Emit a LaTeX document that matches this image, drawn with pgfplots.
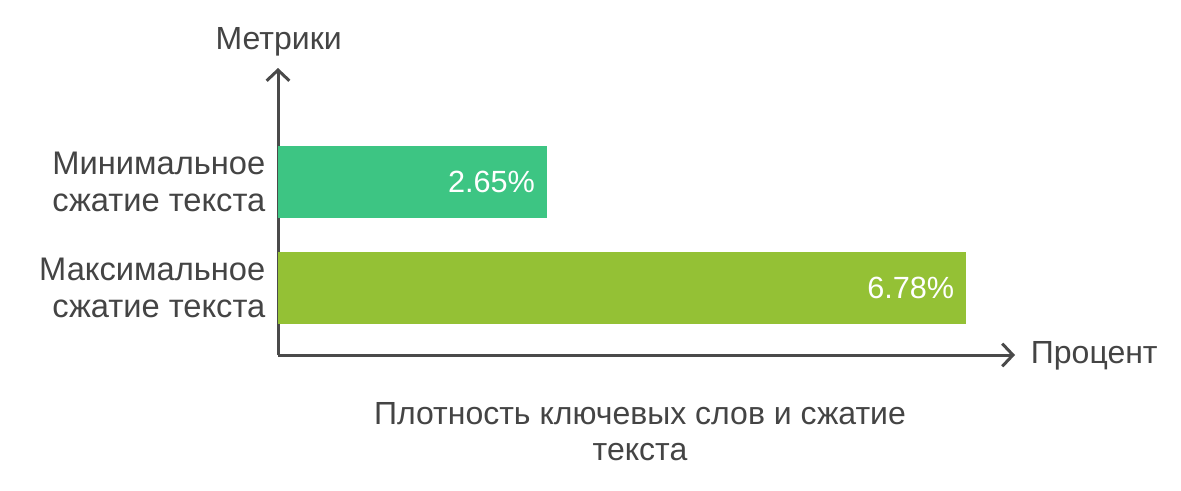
\documentclass[border=0pt]{standalone}
\usepackage{fontspec}
\setmainfont{Liberation Sans}
\usepackage{pgfplots}
\pgfplotsset{compat=1.18}
\usetikzlibrary{arrows.meta}
\definecolor{barA}{HTML}{3DC583}
\definecolor{barB}{HTML}{94C135}
\definecolor{axisgray}{HTML}{4A4A4A}
\definecolor{txt}{HTML}{444444}
\begin{document}
\begin{tikzpicture}
\useasboundingbox (0,0) rectangle (885.75pt,367.5pt);
\coordinate (O) at (208.5pt,101.25pt);
\begin{axis}[
  at={(O)}, anchor=south west,
  scale only axis,
  width=552.75pt, height=215.25pt,
  xmin=0, xmax=7.26,
  ymin=-0.632, ymax=2.075,
  axis lines=left,
  axis line style={draw=axisgray, line width=2.25pt},
  x axis line style={-{Straight Barb[length=8pt,width=17pt,line width=2.25pt]}},
  y axis line style={-{Straight Barb[length=8pt,width=17pt,line width=2.25pt]}},
  xtick=\empty,
  ytick={0,1},
  yticklabels={Максимальное\\сжатие текста, Минимальное\\сжатие текста},
  major tick length=0pt,
  yticklabel style={align=right, text=txt, font=\fontsize{24.5}{27.75}\selectfont, xshift=-6pt},
  xbar, bar width=54pt,
  point meta=x,
  nodes near coords={\pgfmathprintnumber[fixed,fixed zerofill,precision=2,assume math mode=true]{\pgfplotspointmeta}\%},
  every node near coord/.append style={anchor=east, xshift=-5.5pt, text=white, font=\fontsize{23}{28}\selectfont},
  clip=false,
]
\addplot[fill=barA, draw=none, bar shift=0pt] coordinates {(2.65,1)};
\addplot[fill=barB, draw=none, bar shift=0pt] coordinates {(6.78,0)};
\end{axis}
\node[text=txt, font=\fontsize{24}{27}\selectfont] at (209pt,336pt) {Метрики};
\node[text=txt, font=\fontsize{24}{27}\selectfont, anchor=west, inner sep=0pt] at (773pt,100.5pt) {Процент};
\node[text=txt, font=\fontsize{24}{27}\selectfont, align=center] at (480pt,44pt) {Плотность ключевых слов и сжатие\\текста};
\end{tikzpicture}
\end{document}
